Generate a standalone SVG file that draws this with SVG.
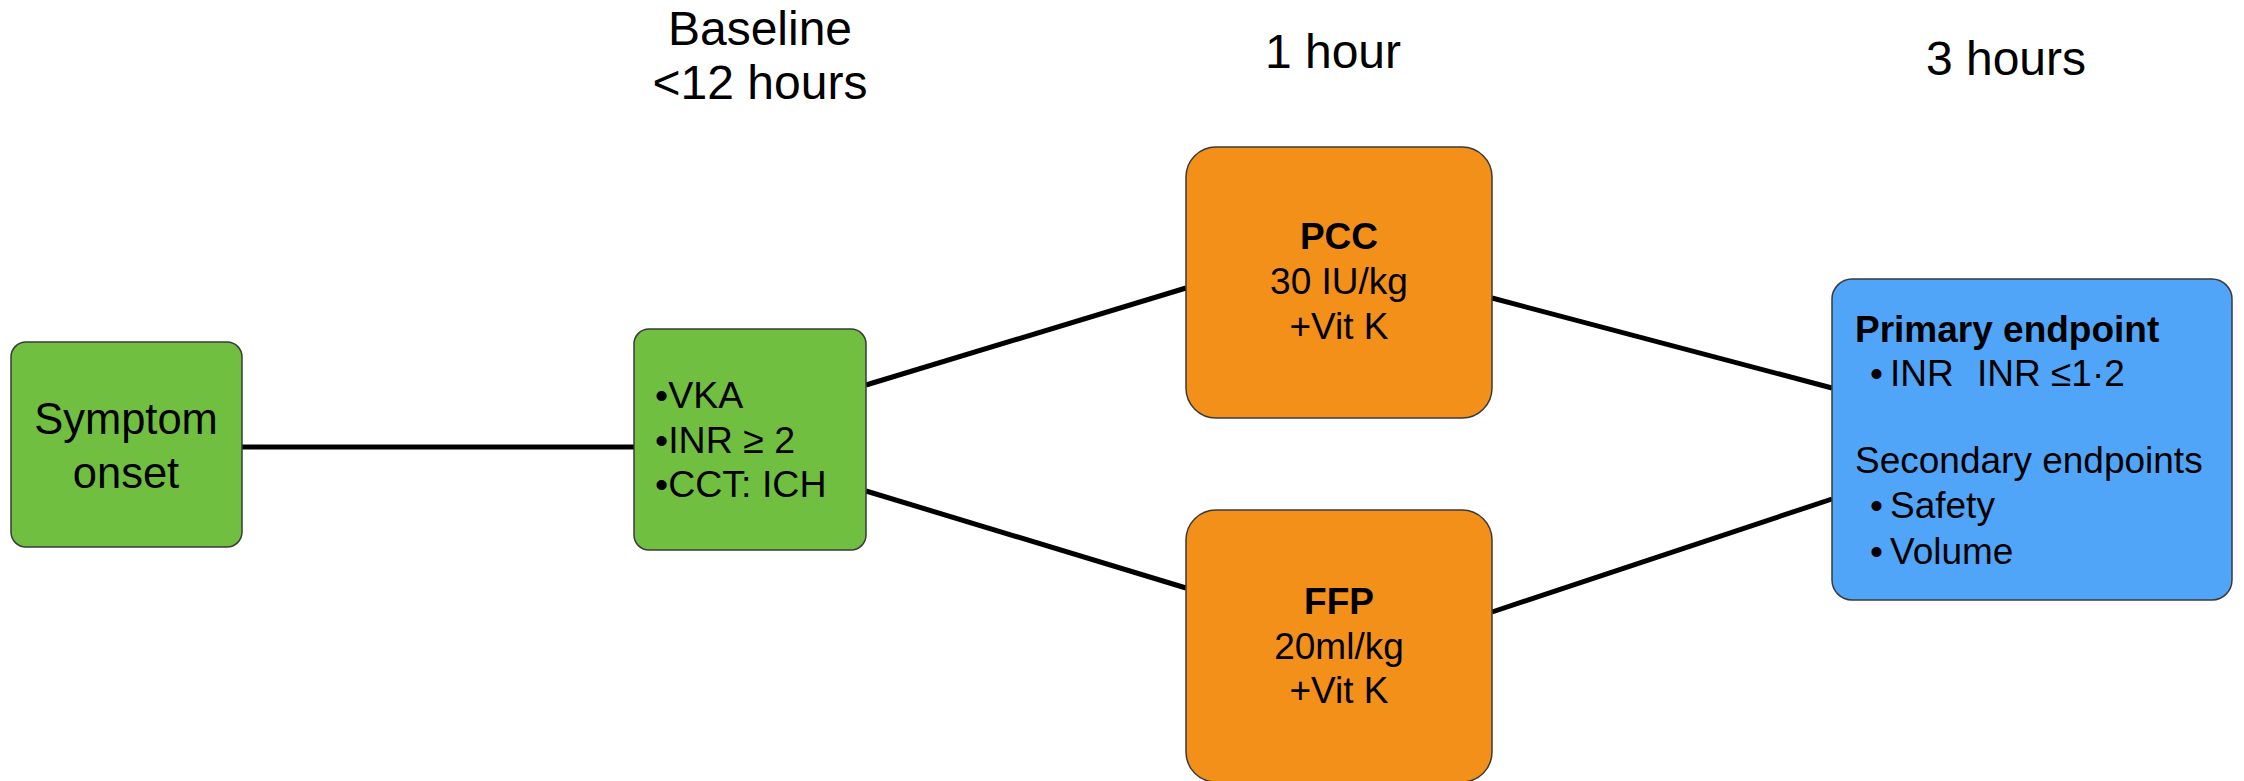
<svg xmlns="http://www.w3.org/2000/svg" width="2244" height="781" viewBox="0 0 2244 781">
<style>
text{font-family:"Liberation Sans",Arial,sans-serif;fill:#000}
.hdr{font-size:48px;text-anchor:middle}
.green{fill:#70BF41;stroke:#3a3a3a;stroke-width:1.5}
.orange{fill:#F2901A;stroke:#3a3a3a;stroke-width:1.5}
.blue{fill:#50A5F8;stroke:#3a3a3a;stroke-width:1.5}
.c{text-anchor:middle;font-size:37px}
.b{font-weight:bold}
.conn line{stroke:#000;stroke-width:5}
</style>
<rect width="2244" height="781" fill="#fff"/>
<g id="headers">
<text class="hdr" x="760" y="45">Baseline</text>
<text class="hdr" x="760" y="99">&lt;12 hours</text>
<text class="hdr" x="1333" y="68">1 hour</text>
<text class="hdr" x="2006" y="75">3 hours</text>
</g>
<g class="conn" id="connectors">
<line x1="242" y1="447" x2="634" y2="447"/>
<line x1="866" y1="385" x2="1186" y2="288"/>
<line x1="866" y1="491" x2="1186" y2="588"/>
<line x1="1492" y1="298" x2="1832" y2="388"/>
<line x1="1492" y1="612" x2="1832" y2="499"/>
</g>
<g id="symptom">
<rect class="green" x="11" y="342" width="231" height="205" rx="15"/>
<text class="c" x="126" y="434" style="font-size:43.5px">Symptom</text>
<text class="c" x="126" y="488" style="font-size:43.5px">onset</text>
</g>
<g id="baseline">
<rect class="green" x="634" y="329" width="232" height="221" rx="15"/>
<text x="655" y="408" font-size="37.5">•VKA</text>
<text x="655" y="453" font-size="37.5">•INR ≥ 2</text>
<text x="655" y="497" font-size="37.5">•CCT: ICH</text>
</g>
<g id="pcc">
<rect class="orange" x="1186" y="147" width="306" height="271" rx="30"/>
<text class="c b" x="1339" y="249">PCC</text>
<text class="c" x="1339" y="294">30 IU/kg</text>
<text class="c" x="1339" y="339">+Vit K</text>
</g>
<g id="ffp">
<rect class="orange" x="1186" y="510" width="306" height="272" rx="30"/>
<text class="c b" x="1339" y="614">FFP</text>
<text class="c" x="1339" y="659">20ml/kg</text>
<text class="c" x="1339" y="703">+Vit K</text>
</g>
<g id="endpoints">
<rect class="blue" x="1832" y="279" width="400" height="321" rx="20"/>
<text class="b" x="1855" y="342" font-size="37">Primary endpoint</text>
<text x="1870" y="386" font-size="37">•</text>
<text x="1890" y="386" font-size="37">INR</text>
<text x="1977" y="386" font-size="37">INR ≤1·2</text>
<text x="1855" y="473" font-size="37">Secondary endpoints</text>
<text x="1870" y="518" font-size="37">•</text>
<text x="1890" y="518" font-size="37">Safety</text>
<text x="1870" y="564" font-size="37">•</text>
<text x="1890" y="564" font-size="37">Volume</text>
</g>
</svg>
